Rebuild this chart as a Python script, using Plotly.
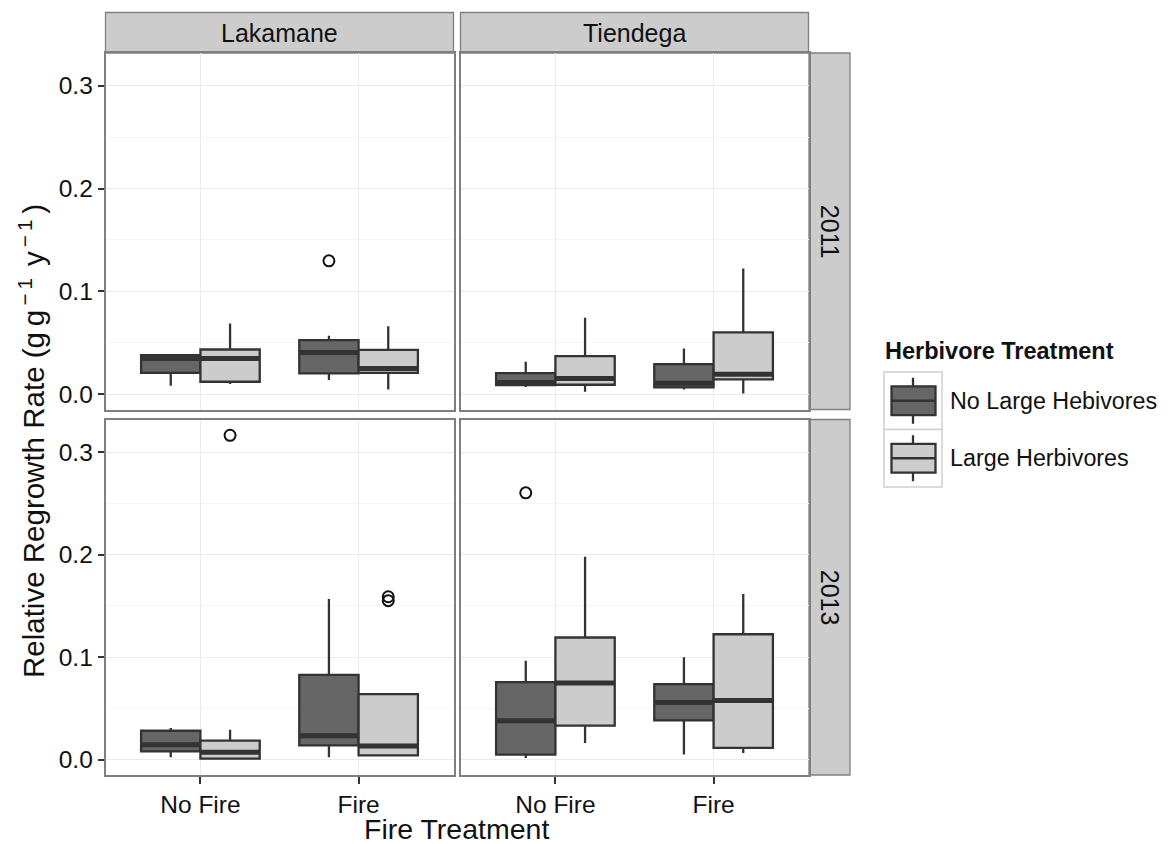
import plotly.graph_objects as go

# ---------------- data ----------------
sites = ["Lakamane", "Tiendega"]
years = ["2011", "2013"]
fire_levels = ["No Fire", "Fire"]
herb_levels = ["No Large Hebivores", "Large Herbivores"]

# long format: one entry per box
box_site = ["Lakamane"] * 8 + ["Tiendega"] * 8
box_year = (["2011"] * 4 + ["2013"] * 4) * 2
box_fire = ["No Fire", "No Fire", "Fire", "Fire"] * 4
box_herb = ["No Large Hebivores", "Large Herbivores"] * 8

box_lower = [0.0081, 0.0097, 0.0136, 0.0045,
             0.0023, 0.0005, 0.0023, 0.0032,
             0.0070, 0.0023, 0.0045, 0.0006,
             0.0016, 0.0162, 0.0049, 0.0065]
box_q1 = [0.0207, 0.0120, 0.0201, 0.0207,
          0.0081, 0.0010, 0.0140, 0.0042,
          0.0088, 0.0091, 0.0065, 0.0143,
          0.0049, 0.0331, 0.0383, 0.0114]
box_median = [0.0347, 0.0347, 0.0405, 0.0250,
              0.0146, 0.0071, 0.0234, 0.0133,
              0.0113, 0.0152, 0.0105, 0.0194,
              0.0380, 0.0747, 0.0558, 0.0578]
box_q3 = [0.0379, 0.0434, 0.0525, 0.0431,
          0.0282, 0.0185, 0.0828, 0.0640,
          0.0204, 0.0370, 0.0292, 0.0600,
          0.0756, 0.1192, 0.0737, 0.1224]
box_upper = [0.0386, 0.0687, 0.0567, 0.0661,
             0.0308, 0.0292, 0.1568, 0.0640,
             0.0314, 0.0742, 0.0444, 0.1222,
             0.0964, 0.1980, 0.1000, 0.1617]

out_site = ["Lakamane", "Lakamane", "Lakamane", "Lakamane", "Tiendega"]
out_year = ["2011", "2013", "2013", "2013", "2013"]
out_fire = ["Fire", "No Fire", "Fire", "Fire", "No Fire"]
out_herb = ["No Large Hebivores", "Large Herbivores", "Large Herbivores",
            "Large Herbivores", "No Large Hebivores"]
out_value = [0.1297, 0.3166, 0.1590, 0.1552, 0.2604]

y_ticks = [0.0, 0.1, 0.2, 0.3]
y_ticktext = ["0.0", "0.1", "0.2", "0.3"]

# ---------------- styling ----------------
W, H = 1172, 844
FONT = "Liberation Sans, Arial, Helvetica, sans-serif"
fills = {"No Large Hebivores": "#666666", "Large Herbivores": "#cccccc"}
LINE = "#333333"
BOX_W = 0.375
offsets = {"No Large Hebivores": -BOX_W / 2, "Large Herbivores": BOX_W / 2}
TXT = "#111111"


def px(x):
    return x / W


def py(y):
    return 1 - y / H


col_dom = [[px(105.5), px(453.5)], [px(460.5), px(808.5)]]
row_dom = {"2011": [py(409.5), py(53)], "2013": [py(775), py(419.5)]}

panel_idx = {}
k = 1
for yr in years:
    for s in sites:
        panel_idx[(s, yr)] = k
        k += 1

fig = go.Figure()

for (s, yr), i in panel_idx.items():
    xa = "x" if i == 1 else f"x{i}"
    ya = "y" if i == 1 else f"y{i}"
    for h in herb_levels:
        idx = [j for j in range(len(box_site))
               if box_site[j] == s and box_year[j] == yr and box_herb[j] == h]
        xs = [fire_levels.index(box_fire[j]) + 1 + offsets[h] for j in idx]
        fig.add_trace(go.Box(
            x=xs,
            q1=[box_q1[j] for j in idx],
            median=[box_median[j] for j in idx],
            q3=[box_q3[j] for j in idx],
            lowerfence=[box_lower[j] for j in idx],
            upperfence=[box_upper[j] for j in idx],
            width=BOX_W, whiskerwidth=0,
            fillcolor=fills[h], line=dict(color=LINE, width=2.3),
            boxpoints=False, showlegend=False, hoverinfo="skip",
            xaxis=xa, yaxis=ya))
        mx, my = [], []
        for xv, j in zip(xs, idx):
            mx += [xv - BOX_W / 2, xv + BOX_W / 2, None]
            my += [box_median[j], box_median[j], None]
        fig.add_trace(go.Scatter(x=mx, y=my, mode="lines",
                                 line=dict(color=LINE, width=5),
                                 showlegend=False, hoverinfo="skip",
                                 xaxis=xa, yaxis=ya))
    oi = [j for j in range(len(out_site)) if out_site[j] == s and out_year[j] == yr]
    if oi:
        fig.add_trace(go.Scatter(
            x=[fire_levels.index(out_fire[j]) + 1 + offsets[out_herb[j]] for j in oi],
            y=[out_value[j] for j in oi],
            mode="markers",
            marker=dict(symbol="circle-open", size=11, color=TXT,
                        line=dict(width=2, color=TXT)),
            showlegend=False, hoverinfo="skip", xaxis=xa, yaxis=ya))

layout = dict(
    width=W, height=H,
    margin=dict(l=0, r=0, t=0, b=0),
    paper_bgcolor="white", plot_bgcolor="white",
    font=dict(family=FONT, color=TXT),
    showlegend=False,
)

for (s, yr), i in panel_idx.items():
    c = sites.index(s)
    bottom = yr == "2013"
    left = c == 0
    xk = "xaxis" if i == 1 else f"xaxis{i}"
    yk = "yaxis" if i == 1 else f"yaxis{i}"
    ya = "y" if i == 1 else f"y{i}"
    xa = "x" if i == 1 else f"x{i}"
    layout[xk] = dict(
        domain=col_dom[c], anchor=ya, range=[0.4, 2.6],
        tickmode="array", tickvals=[1, 2], ticktext=fire_levels,
        showticklabels=bottom, ticks="outside" if bottom else "",
        ticklen=7, tickwidth=2, tickcolor="#333333",
        tickfont=dict(size=24.5, color=TXT),
        ticklabelstandoff=0,
        showgrid=True, gridcolor="#ebebeb", gridwidth=1.2,
        zeroline=False, showline=True, mirror=True,
        linecolor="#7f7f7f", linewidth=1.6, fixedrange=True)
    layout[yk] = dict(
        domain=row_dom[yr], anchor=xa, range=[-0.0150, 0.3320],
        tickmode="array", tickvals=y_ticks, ticktext=y_ticktext,
        showticklabels=left, ticks="outside" if left else "",
        ticklen=6, tickwidth=2, tickcolor="#333333",
        tickfont=dict(size=24.5, color=TXT),
        ticklabelstandoff=0,
        showgrid=True, gridcolor="#ebebeb", gridwidth=1.2,
        minor=dict(tickmode="array", tickvals=[0.05, 0.15, 0.25],
                   showgrid=True, gridcolor="#f6f6f6", gridwidth=1.2, ticks=""),
        zeroline=False, showline=True, mirror=True,
        linecolor="#7f7f7f", linewidth=1.6, fixedrange=True)

shapes = []
annotations = []

for c, s in enumerate(sites):
    shapes.append(dict(type="rect", xref="paper", yref="paper",
                       x0=col_dom[c][0], x1=col_dom[c][1], y0=py(53), y1=py(12.5),
                       fillcolor="#cccccc", line=dict(color="#7f7f7f", width=1.3),
                       layer="below"))
    annotations.append(dict(text=s, xref="paper", yref="paper",
                            x=sum(col_dom[c]) / 2, y=(py(53) + py(12.5)) / 2,
                            showarrow=False, font=dict(size=25, color=TXT),
                            xanchor="center", yanchor="middle"))
for yr in years:
    shapes.append(dict(type="rect", xref="paper", yref="paper",
                       x0=px(809), x1=px(850), y0=row_dom[yr][0], y1=row_dom[yr][1],
                       fillcolor="#cccccc", line=dict(color="#7f7f7f", width=1.3),
                       layer="below"))
    annotations.append(dict(text=yr, xref="paper", yref="paper",
                            x=px(829.5), y=sum(row_dom[yr]) / 2, textangle=90,
                            showarrow=False, font=dict(size=25, color=TXT),
                            xanchor="center", yanchor="middle"))

annotations.append(dict(text="Fire Treatment", xref="paper", yref="paper",
                        x=px(457), y=py(829), showarrow=False,
                        font=dict(size=28.5, color=TXT),
                        xanchor="center", yanchor="middle"))
ytitle = ("Relative Regrowth Rate (g\u2009g<sup>\u2009\u2212\u20091</sup>\u2009\u2009"
          "y<sup>\u2009\u2212\u20091</sup>\u2009)")
annotations.append(dict(text=ytitle,
                        xref="paper", yref="paper",
                        x=px(31), y=py(441), textangle=-90, showarrow=False,
                        font=dict(size=29.5, color=TXT),
                        xanchor="center", yanchor="middle"))

annotations.append(dict(text="<b>Herbivore Treatment</b>", xref="paper", yref="paper",
                        x=px(883), y=py(351), showarrow=False,
                        font=dict(size=23.5, color=TXT),
                        xanchor="left", yanchor="middle"))
key_tops = [372, 429.5]
KEY_H, KEY_X0, KEY_X1 = 57.5, 884, 942
for h, top in zip(herb_levels, key_tops):
    shapes.append(dict(type="rect", xref="paper", yref="paper",
                       x0=px(KEY_X0), x1=px(KEY_X1), y0=py(top + KEY_H), y1=py(top),
                       fillcolor="white", line=dict(color="#d0d0d0", width=1.5)))
    xm = (KEY_X0 + KEY_X1) / 2
    shapes.append(dict(type="line", xref="paper", yref="paper",
                       x0=px(xm), x1=px(xm), y0=py(top + 0.1 * KEY_H), y1=py(top + 0.9 * KEY_H),
                       line=dict(color=LINE, width=2.3)))
    shapes.append(dict(type="rect", xref="paper", yref="paper",
                       x0=px(891.5), x1=px(935.5),
                       y0=py(top + 0.75 * KEY_H), y1=py(top + 0.25 * KEY_H),
                       fillcolor=fills[h], line=dict(color=LINE, width=2.3)))
    shapes.append(dict(type="line", xref="paper", yref="paper",
                       x0=px(891.5), x1=px(935.5),
                       y0=py(top + 0.5 * KEY_H), y1=py(top + 0.5 * KEY_H),
                       line=dict(color=LINE, width=2.3)))
    annotations.append(dict(text=h, xref="paper", yref="paper",
                            x=px(948), y=py(top + 0.5 * KEY_H), showarrow=False,
                            font=dict(size=23.3, color=TXT),
                            xanchor="left", yanchor="middle"))

layout["shapes"] = shapes
layout["annotations"] = annotations
fig.update_layout(**layout)

fig.write_html("out.html",
               config={"displayModeBar": False},
               post_script="document.body.style.margin='0px';"
                           "document.body.style.overflow='hidden';")
